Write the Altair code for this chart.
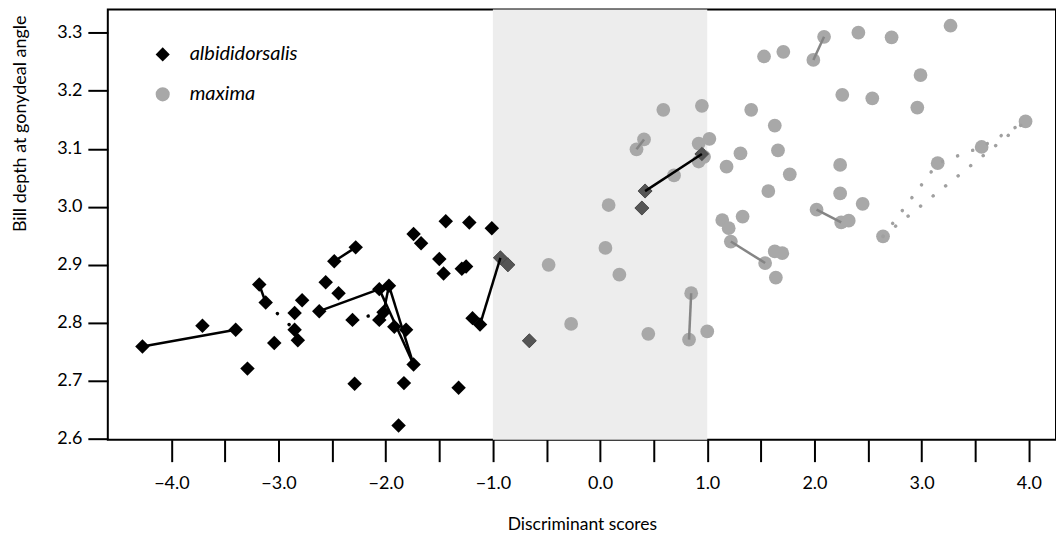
import altair as alt
import pandas as pd

# ---------------- data ----------------
# albididorsalis (black diamonds)
alb_x = [-4.27, -3.71, -3.40, -3.29, -3.18, -3.12, -2.78, -2.85, -2.62, -2.56,
         -2.44, -2.85, -2.82, -3.04, -2.28, -2.48, -2.06, -1.97, -2.31, -2.02,
         -2.06, -1.92, -1.81, -1.74, -2.29, -1.83, -1.32, -1.88, -1.74, -1.67,
         -1.44, -1.22, -1.01, -1.50, -1.46, -1.29, -1.25, -0.93, -0.86, -1.19,
         -1.12, -0.66, 0.39, 0.42, 0.95]
alb_y = [2.759, 2.795, 2.788, 2.721, 2.866, 2.835, 2.839, 2.817, 2.820, 2.870,
         2.851, 2.788, 2.770, 2.765, 2.930, 2.906, 2.858, 2.864, 2.805, 2.818,
         2.805, 2.793, 2.788, 2.728, 2.695, 2.696, 2.688, 2.623, 2.953, 2.937,
         2.975, 2.973, 2.963, 2.910, 2.885, 2.893, 2.897, 2.912, 2.900, 2.808,
         2.797, 2.769, 2.998, 3.027, 3.091]

# maxima (grey circles)
max_x = [-0.48, -0.27, 0.05, 0.08, 0.18, 0.45, 0.85, 0.83, 1.00, 0.34,
         0.41, 0.59, 0.95, 0.69, 0.92, 1.02, 0.97, 0.92, 1.18, 1.31,
         1.41, 1.53, 1.71, 1.63, 1.66, 1.77, 1.57, 1.14, 1.20, 1.33,
         1.22, 1.54, 1.63, 1.70, 1.64, 1.99, 2.09, 2.41, 2.72, 3.27,
         2.99, 2.26, 2.54, 2.96, 3.97, 3.56, 3.15, 2.24, 2.24, 2.45,
         2.02, 2.25, 2.32, 2.64]
max_y = [2.900, 2.798, 2.929, 3.003, 2.883, 2.781, 2.851, 2.771, 2.785, 3.099,
         3.116, 3.167, 3.174, 3.054, 3.109, 3.117, 3.086, 3.078, 3.069, 3.092,
         3.167, 3.259, 3.267, 3.140, 3.097, 3.056, 3.027, 2.977, 2.963, 2.983,
         2.940, 2.903, 2.923, 2.920, 2.878, 3.253, 3.293, 3.300, 3.292, 3.312,
         3.227, 3.193, 3.187, 3.171, 3.147, 3.103, 3.075, 3.072, 3.023, 3.005,
         2.995, 2.973, 2.976, 2.949]

# connections (indices into the arrays above)
alb_solid = [[0, 2], [4, 5], [14, 15], [8, 16], [16, 23], [17, 23], [17, 19],
             [37, 40], [43, 44]]
alb_dotted = [[5, 11], [18, 19]]
max_solid = [[9, 10], [6, 7], [35, 36], [30, 31], [50, 51]]
max_dotted = [[53, 46, 45, 44], [53, 44]]

species = ["albididorsalis", "maxima"]
shade_from = [-1.0]
shade_to = [1.0]
x_ticks = [-4.0, -3.5, -3.0, -2.5, -2.0, -1.5, -1.0, -0.5, 0.0, 0.5,
           1.0, 1.5, 2.0, 2.5, 3.0, 3.5, 4.0]
y_ticks = [2.6, 2.7, 2.8, 2.9, 3.0, 3.1, 3.2, 3.3]

# ---------------- tables ----------------
alb_df = pd.DataFrame({"x": alb_x, "y": alb_y, "species": species[0]})
max_df = pd.DataFrame({"x": max_x, "y": max_y, "species": species[1]})
shade_df = pd.DataFrame({"x": shade_from, "x2": shade_to})


def build_paths(xv, yv, paths):
    rows = []
    for pid, path in enumerate(paths):
        for k, i in enumerate(path):
            rows.append({"pid": pid, "ord": k, "x": xv[i], "y": yv[i]})
    return pd.DataFrame(rows)


alb_solid_df = build_paths(alb_x, alb_y, alb_solid)
alb_dot_df = build_paths(alb_x, alb_y, alb_dotted)
max_solid_df = build_paths(max_x, max_y, max_solid)
max_dot_df = build_paths(max_x, max_y, max_dotted)

# ---------------- scales / axes ----------------
FONT = "Lato"
xs = alt.Scale(domain=[-4.593, 4.254], nice=False, zero=False)
ys = alt.Scale(domain=[2.5985, 3.34], nice=False, zero=False)
color_scale = alt.Scale(domain=species, range=["#000000", "#a8a8a8"])
shape_scale = alt.Scale(domain=species, range=["diamond", "circle"])

x_axis = alt.Axis(
    values=x_ticks,
    labelExpr="datum.value % 1 == 0 ? format(datum.value, '.1f') : ''",
    title="Discriminant scores", domain=False, grid=False,
    tickSize=22, tickWidth=2, tickColor="black",
    labelFont=FONT, labelFontSize=18, labelColor="black", labelPadding=13,
    labelFlush=False, labelOverlap=False,
    titleFont=FONT, titleFontSize=17.5, titleFontWeight="normal", titleColor="black",
    titleX=475, titleY=90, titleAlign="center", titleBaseline="alphabetic",
)
y_axis = alt.Axis(
    values=y_ticks, format=".1f",
    title="Bill depth at gonydeal angle", domain=False, grid=False,
    tickSize=20, tickWidth=2, tickColor="black",
    labelFont=FONT, labelFontSize=18, labelColor="black", labelPadding=6,
    labelFlush=False, labelOverlap=False,
    titleFont=FONT, titleFontSize=18, titleFontWeight="normal", titleColor="black",
    titleX=-82, titleY=114, titleAngle=-90, titleAlign="center",
    titleBaseline="alphabetic",
)
legend = alt.Legend(
    title=None, orient="none", legendX=45, legendY=35, padding=0,
    labelFont=FONT, labelFontSize=20, labelFontStyle="italic", labelColor="black",
    symbolSize=200, rowPadding=20, labelOffset=17, symbolStrokeWidth=0,
    symbolOpacity=1,
)


def X():
    return alt.X("x:Q", scale=xs, axis=x_axis)


def Y():
    return alt.Y("y:Q", scale=ys, axis=y_axis)


# ---------------- layers ----------------
shade = alt.Chart(shade_df).mark_rect(color="#ededed").encode(
    x=X(),
    x2="x2:Q",
    y=alt.value(0),
    y2=alt.value(431),
)

circles = alt.Chart(max_df).mark_point(filled=True, opacity=1, size=190).encode(
    x=X(), y=Y(),
    color=alt.Color("species:N", scale=color_scale, legend=legend),
    shape=alt.Shape("species:N", scale=shape_scale, legend=legend),
)

grey_lines = alt.Chart(max_solid_df).mark_line(color="#858585", strokeWidth=2.5).encode(
    x=X(), y=Y(), detail="pid:N", order="ord:Q",
)
grey_dots = alt.Chart(max_dot_df).mark_line(
    color="#a0a0a0", strokeWidth=3.5, strokeDash=[0.1, 16], strokeCap="round"
).encode(
    x=X(), y=Y(), detail="pid:N", order="ord:Q",
)

diamonds = alt.Chart(alb_df).mark_point(filled=True, opacity=1, size=210).encode(
    x=X(), y=Y(),
    color=alt.Color("species:N", scale=color_scale, legend=legend),
    shape=alt.Shape("species:N", scale=shape_scale, legend=legend),
)
diamonds_shaded = alt.Chart(alb_df).transform_filter(
    "datum.x >= -1 && datum.x <= 1"
).mark_point(filled=True, opacity=1, size=210, shape="diamond", color="#555555").encode(
    x=X(), y=Y(),
)

black_lines = alt.Chart(alb_solid_df).mark_line(color="black", strokeWidth=2.5).encode(
    x=X(), y=Y(), detail="pid:N", order="ord:Q",
)
black_dots = alt.Chart(alb_dot_df).mark_line(
    color="black", strokeWidth=3.5, strokeDash=[0.1, 16], strokeCap="round"
).encode(
    x=X(), y=Y(), detail="pid:N", order="ord:Q",
)

chart = alt.layer(
    shade, diamonds, circles, grey_lines, grey_dots, diamonds_shaded,
    black_lines, black_dots,
).properties(
    width=950, height=431,
    autosize=alt.AutoSizeParams(type="none"),
    padding={"left": 100, "top": 1, "right": 0, "bottom": 95},
).configure_view(stroke="black", strokeWidth=2)

chart.save("out.html", embed_options={"renderer": "svg", "actions": False})
